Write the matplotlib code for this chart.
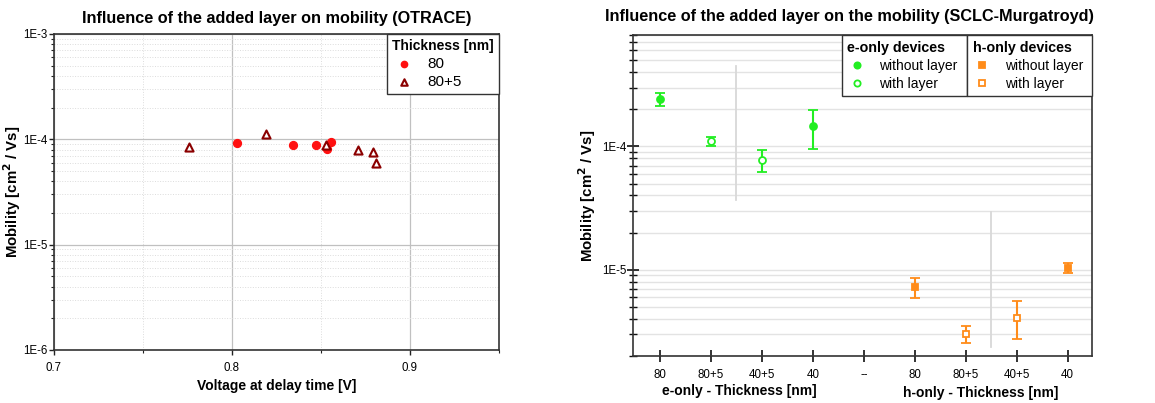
import matplotlib
matplotlib.use("Agg")
import matplotlib.pyplot as plt
import numpy as np
from matplotlib.ticker import FixedLocator, FuncFormatter, NullFormatter, LogLocator
from matplotlib.lines import Line2D

plt.rcParams['font.family'] = ['Liberation Sans', 'DejaVu Sans']

# ---- Left chart data (OTRACE) ----
v_80 = [0.8028, 0.8345, 0.8472, 0.8532, 0.8556]
mu_80 = [9.2e-5, 8.9e-5, 8.9e-5, 8.15e-5, 9.4e-5]
v_85 = [0.7758, 0.8189, 0.8526, 0.8706, 0.8790, 0.8810]
mu_85 = [8.4e-5, 1.12e-4, 8.8e-5, 7.9e-5, 7.6e-5, 6.0e-5]

# ---- Right chart data (SCLC-Murgatroyd) ----
cat_labels = ["80", "80+5", "40+5", "40", "--", "80", "80+5", "40+5", "40"]
e_without_pos = [0, 3]
e_without_val = [2.42e-4, 1.47e-4]
e_without_lo = [2.11e-4, 9.6e-5]
e_without_hi = [2.72e-4, 1.97e-4]
e_with_pos = [1, 2]
e_with_val = [1.10e-4, 7.75e-5]
e_with_lo = [1.0e-4, 6.2e-5]
e_with_hi = [1.19e-4, 9.3e-5]
h_without_pos = [5, 8]
h_without_val = [7.3e-6, 1.04e-5]
h_without_lo = [5.9e-6, 9.4e-6]
h_without_hi = [8.6e-6, 1.13e-5]
h_with_pos = [6, 7]
h_with_val = [3.0e-6, 4.1e-6]
h_with_lo = [2.55e-6, 2.74e-6]
h_with_hi = [3.47e-6, 5.55e-6]
sep_pos = [1.5, 6.5]
sep_lo = [3.7e-5, 2.38e-6]
sep_hi = [4.5e-4, 2.92e-5]

GREEN = '#22ee22'
ORANGE = '#ff8c1a'

W, H = 1155, 403
fig = plt.figure(figsize=(W / 100, H / 100), dpi=100)

def rect(l, t, r, b):
    return [l / W, 1 - b / H, (r - l) / W, (b - t) / H]

efmt = FuncFormatter(lambda v, p: "1E%d" % int(round(np.log10(v))))
TICKFS = 8.3
LABFS = 10
YLABFS = 10.8
TITLEFS = 11.7

# ================= Left =================
ax1 = fig.add_axes(rect(54, 34, 499, 350))
ax1.set_yscale('log')
ax1.set_xlim(0.7, 0.95)
ax1.set_ylim(1e-6, 1e-3)
ax1.scatter(v_80, mu_80, s=32, marker='o', color='#ff1010', edgecolors='#ff1010', zorder=3, label='80')
ax1.scatter(v_85, mu_85, s=34, marker='^', facecolors='white', edgecolors='#8b0000', linewidths=1.5, zorder=3, label='80+5')
ax1.xaxis.set_major_locator(FixedLocator([0.7, 0.8, 0.9]))
ax1.xaxis.set_minor_locator(FixedLocator([0.75, 0.85, 0.95]))
ax1.set_xticklabels(['0.7', '0.8', '0.9'])
ax1.yaxis.set_major_locator(LogLocator(base=10, numticks=10))
ax1.yaxis.set_major_formatter(efmt)
ax1.yaxis.set_minor_locator(LogLocator(base=10, subs=np.arange(2, 10), numticks=10))
ax1.yaxis.set_minor_formatter(NullFormatter())
ax1.grid(True, which='major', color='#c0c0c0', linewidth=0.9, linestyle='-')
ax1.grid(True, which='minor', color='#dcdcdc', linewidth=0.7, linestyle=':')
ax1.set_axisbelow(True)
ax1.tick_params(which='major', direction='out', length=3.5, width=1, labelsize=TICKFS, color='#222', pad=1)
ax1.tick_params(which='minor', direction='out', length=2, width=0.8, color='#222')
ax1.tick_params(axis='x', pad=5)
for s in ax1.spines.values():
    s.set_color('#333333'); s.set_linewidth(1.2)
ax1.set_xlabel('Voltage at delay time [V]', fontsize=LABFS, fontweight='bold', labelpad=4)
ax1.set_ylabel('Mobility [cm$^\\mathbf{2}$ / Vs]', fontsize=YLABFS, fontweight='bold')
ax1.yaxis.set_label_coords(-0.07, 0.5)
ax1.set_title('Influence of the added layer on mobility (OTRACE)', fontsize=TITLEFS, fontweight='bold', pad=8)
leg1 = ax1.legend(loc='upper right', title='Thickness [nm]', fontsize=11, alignment='left',
                  frameon=True, fancybox=False, edgecolor='#333333', framealpha=1,
                  borderaxespad=0, handletextpad=0.7, borderpad=0.35, labelspacing=0.25,
                  handlelength=1.6, markerscale=0.8)
leg1.get_title().set_fontweight('bold')
leg1.get_title().set_fontsize(10)
leg1.get_frame().set_linewidth(1.0)

# ================= Right =================
ax2 = fig.add_axes(rect(633, 35, 1092, 356))
ax2.set_yscale('log')
ax2.set_xlim(-0.53, 8.48)
ax2.set_ylim(2e-6, 8e-4)

def eb(pos, val, lo, hi, marker, filled, color):
    val = np.array(val); lo = np.array(lo); hi = np.array(hi)
    yerr = [val - lo, hi - val]
    ax2.errorbar(pos, val, yerr=yerr, fmt=marker, color=color, ecolor=color,
                 mfc=color if filled else 'white', mec=color, ms=5, mew=1.3,
                 elinewidth=1.5, capsize=3.5, capthick=1.5, zorder=3)

eb(e_without_pos, e_without_val, e_without_lo, e_without_hi, 'o', True, GREEN)
eb(e_with_pos, e_with_val, e_with_lo, e_with_hi, 'o', False, GREEN)
eb(h_without_pos, h_without_val, h_without_lo, h_without_hi, 's', True, ORANGE)
eb(h_with_pos, h_with_val, h_with_lo, h_with_hi, 's', False, ORANGE)
for xp, lo, hi in zip(sep_pos, sep_lo, sep_hi):
    ax2.plot([xp, xp], [lo, hi], color='#d8d8d8', linewidth=1.3, zorder=1)

ax2.set_xticks(range(len(cat_labels)))
ax2.set_xticklabels(cat_labels)
ax2.yaxis.set_major_locator(FixedLocator([1e-5, 1e-4]))
ax2.yaxis.set_major_formatter(efmt)
ax2.yaxis.set_minor_locator(LogLocator(base=10, subs=np.arange(2, 10), numticks=10))
ax2.yaxis.set_minor_formatter(NullFormatter())
ax2.grid(True, axis='y', which='both', color='#e3e3e3', linewidth=1.0, linestyle='-')
ax2.set_axisbelow(True)
ax2.tick_params(axis='y', which='major', direction='inout', length=8, width=1.2, labelsize=TICKFS, color='#111', pad=0.5)
ax2.tick_params(axis='y', which='minor', direction='inout', length=6, width=1.0, color='#111')
ax2.tick_params(axis='x', which='major', direction='inout', length=9, width=1.2, labelsize=TICKFS, color='#111', pad=5)
for s in ax2.spines.values():
    s.set_color('#333333'); s.set_linewidth(1.2)
ax2.set_ylabel('Mobility [cm$^\\mathbf{2}$ / Vs]', fontsize=YLABFS, fontweight='bold')
ax2.yaxis.set_label_coords(-0.077, 0.5)
fig.text(849 / W, 1 - 17 / H, 'Influence of the added layer on the mobility (SCLC-Murgatroyd)',
         fontsize=TITLEFS, fontweight='bold', ha='center', va='center')
ax2.text(1.55, -0.11, 'e-only - Thickness [nm]', transform=ax2.get_xaxis_transform(),
         fontsize=LABFS, fontweight='bold', ha='center', va='center')
ax2.text(6.3, -0.115, 'h-only - Thickness [nm]', transform=ax2.get_xaxis_transform(),
         fontsize=LABFS, fontweight='bold', ha='center', va='center')

def mk(marker, filled, color):
    return Line2D([], [], linestyle='none', marker=marker, color=color, mfc=color if filled else 'white',
                  mec=color, ms=4.5, mew=1.3)

legkw = dict(fontsize=10, alignment='left', frameon=True, fancybox=False, edgecolor='#333333',
             framealpha=1, borderaxespad=0, handletextpad=0.9, borderpad=0.4, labelspacing=0.3,
             handlelength=1.4, mode='expand')
leg_e = ax2.legend([mk('o', True, GREEN), mk('o', False, GREEN)], ['without layer', 'with layer'],
                   title='e-only devices', loc='upper left', bbox_to_anchor=(0.455, 0.0, 0.273, 1.0), **legkw)
leg_e.get_title().set_fontweight('bold'); leg_e.get_title().set_fontsize(10.3)
leg_e.get_frame().set_linewidth(1.0)
ax2.add_artist(leg_e)
leg_h = ax2.legend([mk('s', True, ORANGE), mk('s', False, ORANGE)], ['without layer', 'with layer'],
                   title='h-only devices', loc='upper left', bbox_to_anchor=(0.728, 0.0, 0.272, 1.0), **legkw)
leg_h.get_title().set_fontweight('bold'); leg_h.get_title().set_fontsize(10.3)
leg_h.get_frame().set_linewidth(1.0)

fig.savefig('out.png', dpi=100)
